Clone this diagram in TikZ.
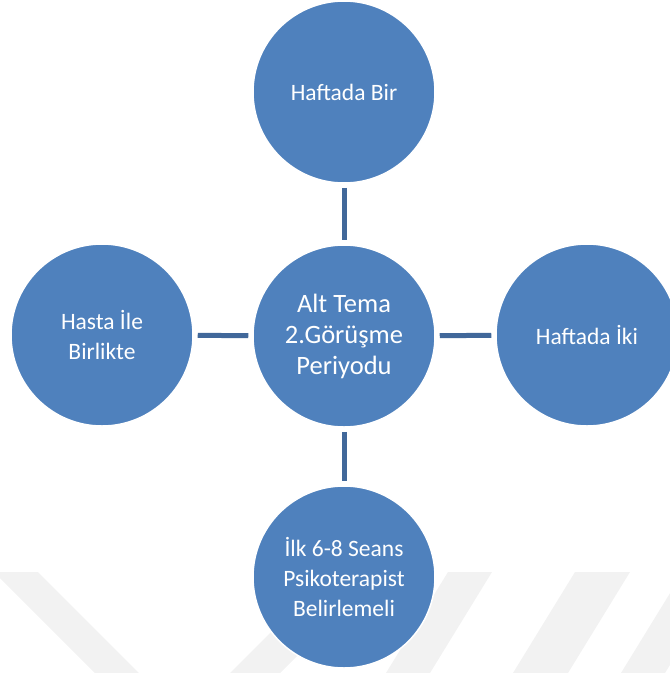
\documentclass[tikz,border=0pt]{standalone}
\usepackage{fontspec}
\setmainfont{Carlito}
\definecolor{nodeblue}{HTML}{4F81BD}
\definecolor{linkblue}{HTML}{41689A}
\definecolor{markgray}{HTML}{F2F2F2}
\begin{document}
\begin{tikzpicture}[x=1pt,y=-1pt,
  bubble/.style={circle, fill=nodeblue, draw=white, line width=1.5pt,
    minimum size=182pt, inner sep=0pt, text=white,
    font=\fontsize{23.5}{30}\selectfont, align=center},
  hub/.style={bubble, font=\fontsize{26.5}{31}\selectfont},
  link/.style={draw=linkblue, line width=5pt, shorten >=4pt, shorten <=4pt}]
\useasboundingbox (0,0) rectangle (670,673);
\clip (0,0) rectangle (670,673);

% faint background bands
\fill[markgray] (-6,572) -- (38,572) -- (139,673) -- (95,673) -- cycle;
\fill[markgray] (230,673) -- (280,673) -- (381,572) -- (331,572) -- cycle;
\fill[markgray] (448,572) -- (492,572) -- (430,673) -- (386,673) -- cycle;
\fill[markgray] (575,572) -- (630,572) -- (568,673) -- (513,673) -- cycle;
\fill[markgray] (683,572) -- (727,572) -- (665,673) -- (621,673) -- cycle;

% theme and sub-themes
\node[hub]    (center) at (344,336) {Alt Tema\\2.Görüşme\\Periyodu};
\node[bubble] (top)    at (344,92)  {Haftada Bir};
\node[bubble] (left)   at (102,335) {Hasta İle\\Birlikte};
\node[bubble] (right)  at (587,335) {Haftada İki};
\node[bubble] (bottom) at (344,577) {İlk 6-8 Seans\\Psikoterapist\\Belirlemeli};

% connectors
\draw[link] (top) -- (center);
\draw[link] (left) -- (center);
\draw[link] (center) -- (right);
\draw[link] (center) -- (bottom);
\end{tikzpicture}
\end{document}
